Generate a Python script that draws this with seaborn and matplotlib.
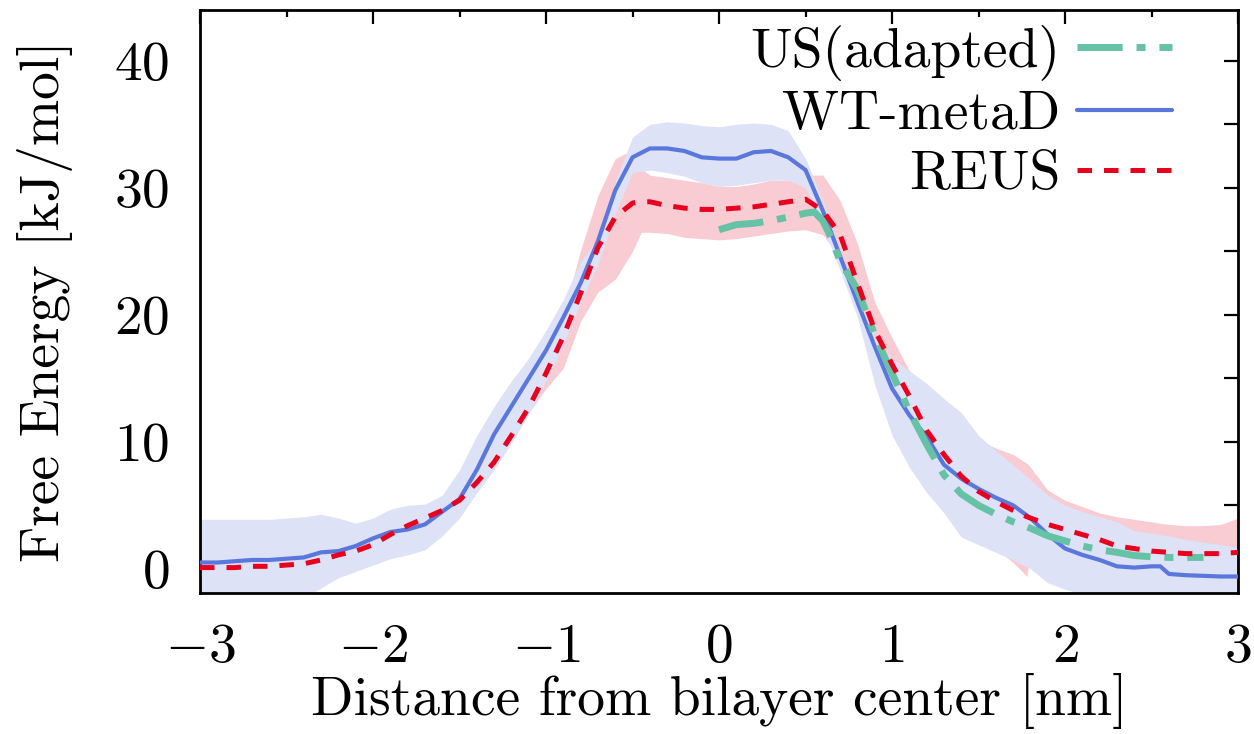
import numpy as np
import pandas as pd
import matplotlib
matplotlib.use("Agg")
import matplotlib.pyplot as plt
import seaborn as sns
from matplotlib.ticker import MultipleLocator

# ---------------- data ----------------
x_wt = [-3.0, -2.9, -2.8, -2.7, -2.6, -2.5, -2.4, -2.3, -2.2, -2.1, -2.0, -1.9, -1.8, -1.7,
        -1.6, -1.5, -1.4, -1.3, -1.2, -1.1, -1.0, -0.9, -0.8, -0.7, -0.6, -0.5, -0.4, -0.3,
        -0.2, -0.1, 0.0, 0.1, 0.2, 0.3, 0.4, 0.5, 0.6, 0.7, 0.8, 0.9, 1.0, 1.1, 1.2, 1.3,
        1.4, 1.5, 1.6, 1.7, 1.8, 1.9, 2.0, 2.1, 2.2, 2.3, 2.4, 2.5, 2.55, 2.6, 2.7, 2.8, 2.9, 3.0]
y_wt = [0.5, 0.5, 0.6, 0.7, 0.7, 0.8, 0.9, 1.3, 1.4, 1.8, 2.4, 2.9, 3.1, 3.5,
        4.5, 5.5, 7.8, 10.6, 12.8, 15.0, 17.2, 19.8, 22.5, 25.8, 29.8, 32.4, 33.1, 33.1,
        32.9, 32.4, 32.3, 32.3, 32.8, 32.9, 32.4, 31.4, 28.2, 24.6, 21.0, 17.5, 14.2, 12.1, 10.4, 8.2,
        7.1, 6.3, 5.6, 5.0, 4.0, 2.7, 1.6, 1.1, 0.7, 0.2, 0.1, 0.2, 0.2, -0.4, -0.5, -0.55, -0.6, -0.6]
wt_upper = [3.9, 3.9, 3.9, 3.9, 3.9, 4.0, 4.1, 4.3, 4.0, 3.6, 4.0, 4.7, 5.0, 5.1,
            5.8, 7.8, 10.5, 12.8, 14.8, 16.6, 18.8, 21.2, 24.2, 26.0, 30.5, 34.0, 35.0, 35.2,
            35.1, 34.9, 34.8, 35.0, 35.1, 35.0, 34.5, 32.3, 29.0, 25.0, 21.5, 18.2, 16.5, 15.6, 14.6, 13.4,
            12.3, 10.5, 9.3, 8.2, 7.0, 5.8, 5.0, 4.5, 4.1, 3.7, 3.0, 2.8, 2.7, 2.6, 2.3, 2.1, 1.9, 1.7]
wt_lower = [-3.5, -3.5, -3.5, -3.4, -3.2, -2.8, -2.3, -1.5, -0.7, -0.2, 0.3, 0.8, 1.1, 1.5,
            2.6, 4.0, 6.0, 7.8, 9.9, 12.2, 14.8, 17.7, 21.0, 24.0, 28.0, 31.2, 31.4, 31.2,
            30.9, 30.4, 30.1, 30.2, 30.4, 30.6, 30.6, 30.0, 27.0, 23.5, 19.8, 14.5, 10.5, 8.0, 6.0, 4.4,
            2.5, 1.9, 1.3, 0.7, 0.0, -1.1, -1.6, -2.0, -3.0, -3.0, -3.0, -3.0, -3.0, -3.0, -3.0, -3.0, -3.0, -3.0]

x_reus = [-3.0, -2.9, -2.8, -2.7, -2.6, -2.5, -2.4, -2.3, -2.2, -2.1, -2.0, -1.9, -1.8, -1.7,
          -1.6, -1.5, -1.4, -1.3, -1.2, -1.1, -1.0, -0.9, -0.8, -0.7, -0.6, -0.5, -0.45, -0.4, -0.3,
          -0.2, -0.1, 0.0, 0.1, 0.2, 0.3, 0.4, 0.5, 0.6, 0.7, 0.8, 0.9, 1.0, 1.1, 1.2, 1.3,
          1.4, 1.5, 1.6, 1.7, 1.78, 1.8, 1.9, 2.0, 2.1, 2.2, 2.3, 2.4, 2.5, 2.6, 2.7, 2.8, 2.9, 3.0]
y_reus = [0.1, 0.1, 0.1, 0.2, 0.2, 0.3, 0.4, 0.7, 1.1, 1.4, 1.9, 2.7, 3.4, 4.0,
          4.6, 5.4, 6.8, 8.4, 10.5, 12.7, 15.4, 18.3, 21.7, 25.3, 27.7, 28.8, 28.9, 28.9, 28.6,
          28.4, 28.3, 28.3, 28.4, 28.5, 28.7, 28.9, 29.1, 28.2, 26.3, 22.5, 18.8, 16.1, 13.6, 10.9, 9.0,
          7.3, 6.1, 5.3, 4.6, 4.1, 4.0, 3.5, 3.1, 2.7, 2.3, 1.8, 1.6, 1.4, 1.3, 1.2, 1.2, 1.2, 1.3]
reus_upper = [0.8, 0.8, 0.8, 0.9, 0.9, 1.0, 1.2, 1.5, 1.9, 2.2, 2.7, 3.5, 4.2, 4.8,
              5.4, 6.2, 7.6, 9.2, 11.3, 13.5, 16.2, 20.0, 25.1, 29.4, 32.3, 33.0, 31.5, 31.0, 30.8,
              30.6, 30.4, 30.1, 30.1, 30.3, 30.6, 30.6, 31.0, 31.0, 29.0, 25.6, 21.0, 18.2, 15.6, 13.5, 12.0,
              11.0, 10.2, 9.5, 9.0, 8.3, 8.0, 6.2, 5.4, 4.9, 4.4, 4.1, 3.9, 3.7, 3.5, 3.4, 3.4, 3.5, 4.0]
reus_lower = [-0.5, -0.5, -0.5, -0.4, -0.4, -0.3, -0.2, 0.1, 0.5, 0.8, 1.3, 2.0, 2.7, 3.3,
              3.9, 4.7, 6.2, 8.0, 10.5, 12.3, 14.2, 15.8, 19.5, 21.8, 22.8, 25.0, 26.5, 26.5, 26.4,
              26.1, 26.0, 25.9, 26.0, 26.2, 26.4, 26.6, 26.7, 26.3, 24.5, 20.5, 16.5, 13.0, 10.5, 8.0, 6.0,
              4.5, 2.8, 1.6, 0.5, -0.6, 1.5, 2.0, 2.0, 1.7, 1.3, 0.8, 0.6, 0.4, 0.3, 0.2, 0.2, 0.2, 0.3]

x_us = [0.0, 0.1, 0.2, 0.3, 0.4, 0.5, 0.55, 0.6, 0.65, 0.7, 0.8, 0.9, 1.0, 1.1, 1.2, 1.3,
        1.4, 1.5, 1.6, 1.7, 1.8, 1.9, 2.0, 2.1, 2.2, 2.3, 2.4, 2.5, 2.6, 2.7, 2.8]
y_us = [26.7, 27.1, 27.2, 27.4, 27.7, 28.0, 28.1, 27.4, 26.0, 24.2, 22.0, 18.4, 15.4, 12.4, 9.8, 7.4,
        5.9, 5.0, 4.3, 3.7, 3.2, 2.6, 2.2, 1.8, 1.5, 1.3, 1.05, 0.95, 0.9, 0.9, 0.9]

labels = ["US(adapted)", "WT-metaD", "REUS"]
x_ticks = [-3, -2, -1, 0, 1, 2, 3]
y_ticks = [0, 10, 20, 30, 40]

# ---------------- style ----------------
sns.set_style("white")
plt.rcParams["font.family"] = ["serif"]
plt.rcParams["font.serif"] = ["cmr10", "DejaVu Serif"]
plt.rcParams["mathtext.fontset"] = "cm"
plt.rcParams["axes.formatter.use_mathtext"] = True
plt.rcParams["axes.unicode_minus"] = True
plt.rcParams["text.color"] = "black"
plt.rcParams["axes.labelcolor"] = "black"
plt.rcParams["xtick.color"] = "black"
plt.rcParams["ytick.color"] = "black"

c_blue = "#5a78dc"
c_red = "#e8001e"
c_green = "#66c2a5"
c_blue_band = "#dde2f7"
c_red_band = "#f9ccd3"
FS = 40

fig = plt.figure(figsize=(12.54, 7.34), dpi=100)
ax = fig.add_axes([0.1595, 0.1921, 0.8278, 0.7943])

ax.fill_between(x_reus, reus_lower, reus_upper, color=c_red_band, lw=0, zorder=1)
ax.fill_between(x_wt, wt_lower, wt_upper, color=c_blue_band, lw=0, zorder=2)

df_us = pd.DataFrame({"x": x_us, "y": y_us})
df_wt = pd.DataFrame({"x": x_wt, "y": y_wt})
df_reus = pd.DataFrame({"x": x_reus, "y": y_reus})

sns.lineplot(data=df_us, x="x", y="y", ax=ax, color=c_green, lw=5.0, estimator=None,
             linestyle=(0, (6.5, 2.0, 1.3, 2.0)), label=labels[0], zorder=5)
sns.lineplot(data=df_wt, x="x", y="y", ax=ax, color=c_blue, lw=3.0, estimator=None,
             label=labels[1], zorder=4)
sns.lineplot(data=df_reus, x="x", y="y", ax=ax, color=c_red, lw=3.6, estimator=None,
             linestyle=(0, (2.9, 2.4)), label=labels[2], zorder=6)

ax.set_xlim(-3, 3)
ax.set_ylim(-1.9, 44.0)
ax.set_xticks(x_ticks)
ax.set_yticks(y_ticks)
ax.xaxis.set_minor_locator(MultipleLocator(0.5))
ax.yaxis.set_minor_locator(MultipleLocator(5))
ax.tick_params(which="both", direction="in", top=True, right=True, width=1.6,
               labelsize=FS, colors="black")
ax.tick_params(axis="x", which="major", length=10, pad=22)
ax.tick_params(axis="x", which="minor", length=5)
ax.tick_params(axis="y", which="both", length=10, pad=22)
for s in ax.spines.values():
    s.set_linewidth(2.0)
    s.set_color("black")

ax.set_xlabel("Distance from bilayer center [nm]", fontsize=FS, labelpad=0)
ax.set_ylabel("Free Energy [kJ/mol]", fontsize=FS, labelpad=30)

leg = ax.legend(loc="upper right", bbox_to_anchor=(0.936, 0.975), frameon=False,
                markerfirst=False, fontsize=FS, handlelength=1.7, handletextpad=0.3,
                labelspacing=0.18, borderaxespad=0.0, borderpad=0.0)

fig.savefig("out.png", dpi=100)
